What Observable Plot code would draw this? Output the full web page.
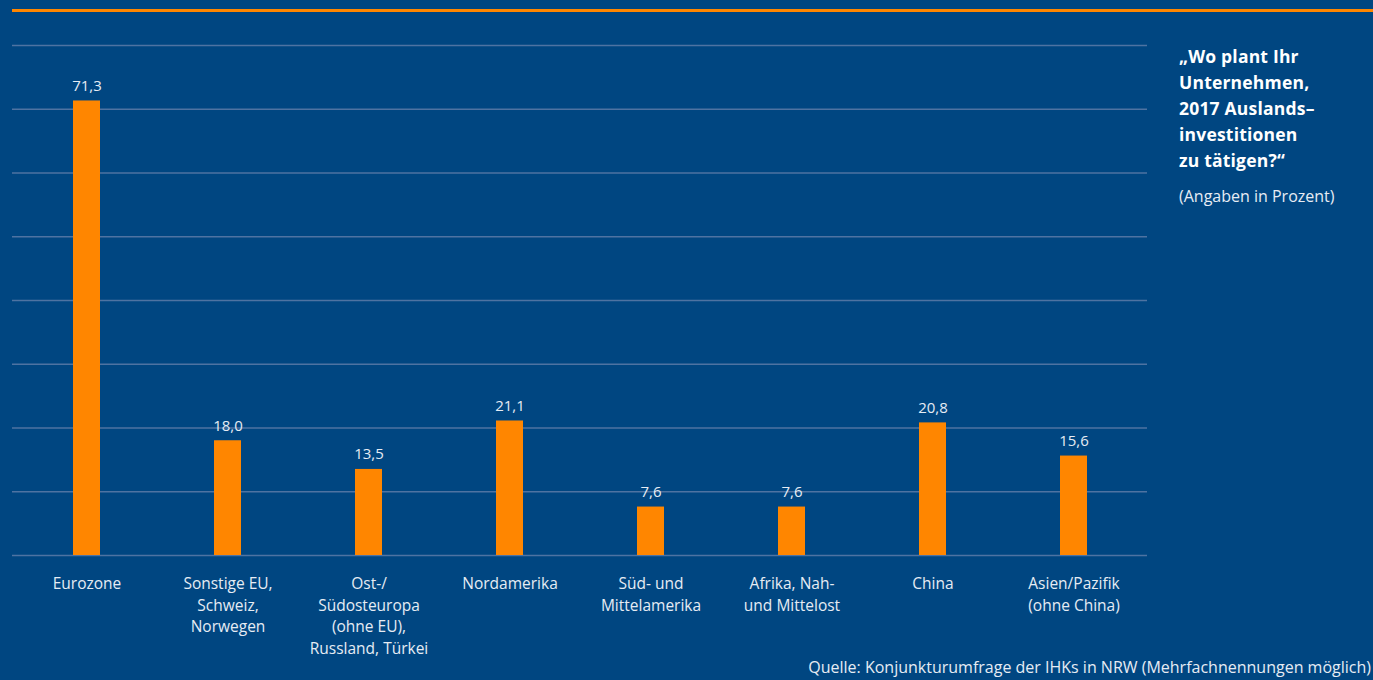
<!DOCTYPE html>
<html>
<head>
<meta charset="utf-8">
<script src="https://cdn.jsdelivr.net/npm/d3@7"></script>
<script src="https://cdn.jsdelivr.net/npm/@observablehq/plot@0.6"></script>
<style>
  html, body { margin: 0; padding: 0; background: #004681; width: 1373px; height: 680px; overflow: hidden; font-family: "Open Sans", sans-serif; }
  #wrap { position: relative; width: 1373px; height: 680px; }
  #topline { position: absolute; left: 12px; top: 9px; width: 1361px; height: 3px; background: #ff8600; }
  #chart { position: absolute; left: 0; top: 0; }
  #title { position: absolute; left: 1179px; top: 43px; color: #ffffff; font-weight: 700; font-size: 17.5px; line-height: 26px; letter-spacing: 0.2px; }
  #subtitle { position: absolute; left: 1179px; top: 185px; color: #e6ecf4; font-size: 16px; line-height: 22px; }
  #source { position: absolute; right: 2px; top: 656px; color: #e6ecf4; font-size: 16px; line-height: 22px; }
</style>
</head>
<body>
<div id="wrap">
  <div id="topline"></div>
  <div id="chart"></div>
  <div id="title">„Wo plant Ihr<br>Unternehmen,<br>2017 Auslands–<br>investitionen<br>zu tätigen?“</div>
  <div id="subtitle">(Angaben in Prozent)</div>
  <div id="source">Quelle: Konjunkturumfrage der IHKs in NRW (Mehrfachnennungen möglich)</div>
</div>
<script>
const regions = [
  "Eurozone",
  "Sonstige EU,\nSchweiz,\nNorwegen",
  "Ost-/\nSüdosteuropa\n(ohne EU),\nRussland, Türkei",
  "Nordamerika",
  "Süd- und\nMittelamerika",
  "Afrika, Nah-\nund Mittelost",
  "China",
  "Asien/Pazifik\n(ohne China)"
];
const shares = [71.3, 18.0, 13.5, 21.1, 7.6, 7.6, 20.8, 15.6];
const gridTicks = [10, 20, 30, 40, 50, 60, 70, 80];

const data = regions.map((r, i) => ({region: r, value: shares[i]}));
const fmt = v => v.toFixed(1).replace(".", ",");

const chart = Plot.plot({
  width: 1160,
  height: 665,
  marginLeft: 12,
  marginRight: 13,
  marginTop: 45,
  marginBottom: 110,
  style: {background: "transparent", fontFamily: "Open Sans, sans-serif"},
  x: {domain: regions, paddingInner: 0.81, paddingOuter: 0.405, align: 0.5},
  y: {domain: [0, 80], axis: null},
  marks: [
    Plot.gridY(gridTicks, {stroke: "#4e73a2", strokeOpacity: 1, strokeWidth: 1.3}),
    Plot.ruleY([0], {stroke: "#4e73a2", strokeWidth: 1.3}),
    Plot.barY(data, {x: "region", y: "value", fill: "#ff8600"}),
    Plot.text(data, {x: "region", y: "value", text: d => fmt(d.value), dy: -15, fill: "#e6ecf4", fontSize: 15}),
    Plot.axisX({tickSize: 0, tickPadding: 18, fontSize: 15.5, lineHeight: 1.4, fill: "#e6ecf4", label: null, textAnchor: "middle"})
  ]
});
document.getElementById("chart").appendChild(chart);
</script>
</body>
</html>
